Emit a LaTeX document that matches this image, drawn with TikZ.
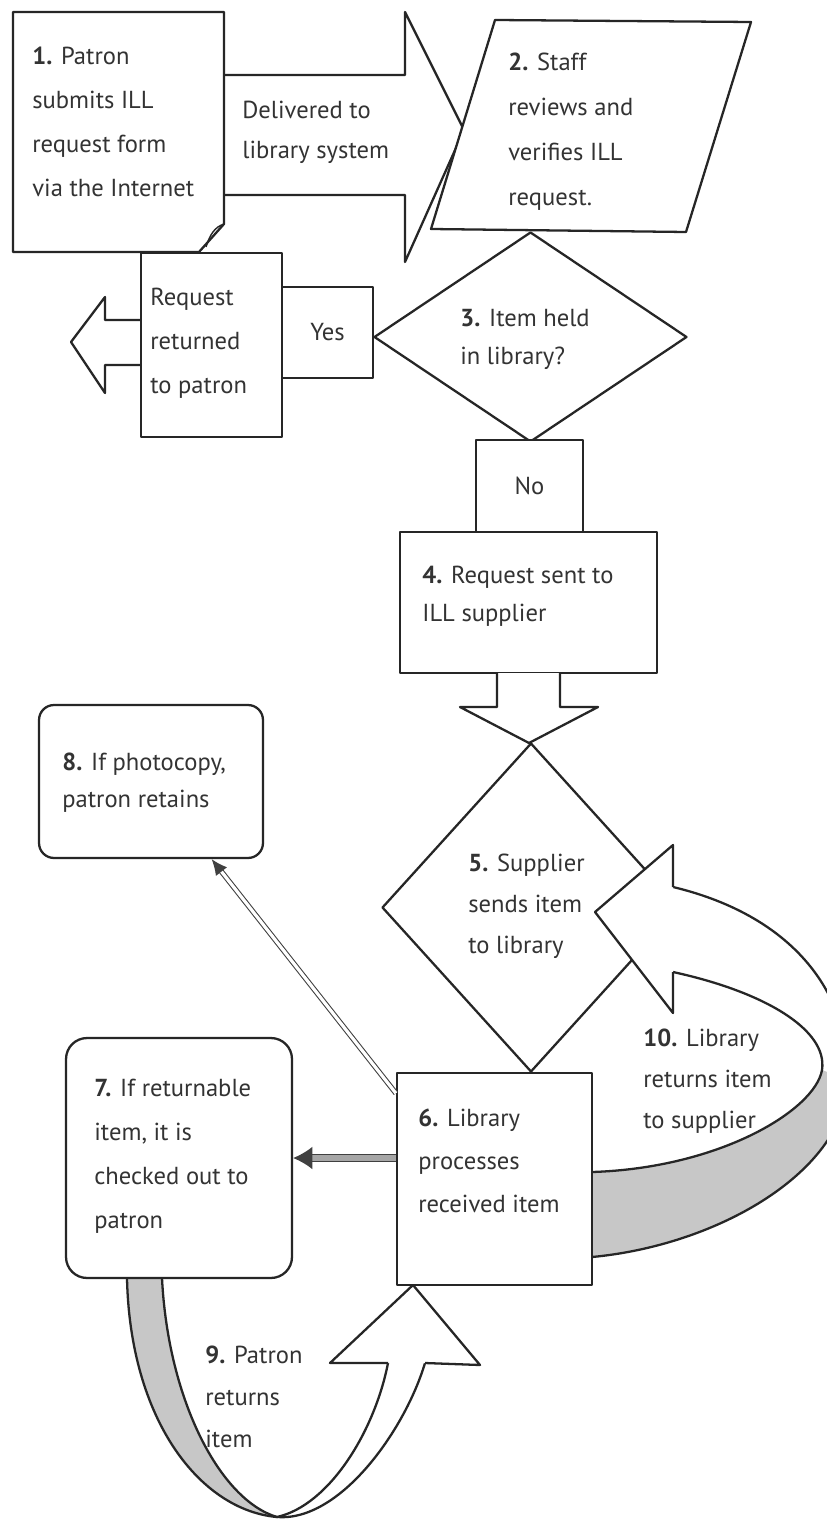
\documentclass[tikz,border=0pt]{standalone}
\usepackage{fontspec}
\setmainfont{PT Sans}
\usepackage{tikz}
\usetikzlibrary{shapes.geometric, arrows.meta}

\begin{document}
\begin{tikzpicture}[x=0.02cm, y=-0.02cm, line join=round,
  box/.style={rectangle, draw=black!85, line width=1.3pt, fill=white,
              inner sep=0pt, text=black!80, font=\fontsize{14pt}{17pt}\selectfont},
  rbox/.style={box, rounded corners=#1},
  dec/.style={diamond, draw=black!85, line width=1.3pt, fill=white, inner sep=0pt},
  outl/.style={draw=black!85, line width=1.3pt, fill=white},
  band/.style={draw=black!85, line width=1.3pt},
  shade/.style={fill=black!22},
  lbl/.style={anchor=west, align=left, inner sep=0pt, text=black!80,
              font=\fontsize{14pt}{#1pt}\selectfont},
  dbl/.style={draw=black!75, line width=0.6pt, double=white, double distance=1.8pt,
              -{Latex[length=9pt,width=8pt]}},
  dblthick/.style={draw=black!75, line width=0.9pt, double=black!35, double distance=3pt,
              -{Latex[length=11pt,width=13pt]}},
]
  \useasboundingbox (0,0) rectangle (826,1520);
  \fill[white] (0,0) rectangle (826,1520);

  % Step 1 and block arrow to step 2
  \filldraw[outl] (224,75) -- (405,75) -- (405,12) -- (464,130) -- (405,262) -- (405,195) -- (224,195);
  \filldraw[outl] (13,12) -- (224,12) -- (224,224) -- (199,252) -- (13,252) -- cycle;
  \draw[draw=black!85, line width=0.8pt] (224,224) .. controls (215,227) and (210,234) .. (206,247);
  \node[lbl=25] (t1) at (32,122) {\textbf{1.} Patron\\submits ILL\\request form\\via the Internet};
  \node[lbl=22.7] (tdel) at (242,132) {Delivered to\\library system};

  % Step 2
  \filldraw[outl] (495,20) -- (751,22) -- (686,232) -- (431,229) -- cycle;
  \node[lbl=25.6] (t2) at (508,132) {\textbf{2.} Staff\\reviews and\\verifies ILL\\request.};

  % Step 3 and the yes branch
  \node[dec, minimum width=6.26cm, minimum height=4.2cm] (d3) at (530.5,337) {};
  \node[lbl=21.6] (t3) at (460,339) {\textbf{3.} Item held\\in library?};
  \filldraw[outl] (141,320) -- (105,320) -- (105,297) -- (71,342) -- (105,393) -- (105,365) -- (141,365);
  \node[box, minimum width=2.82cm, minimum height=3.68cm] (ret) at (211.5,345) {};
  \node[lbl=25] (tret) at (150,343) {Request\\returned\\to patron};
  \node[box, minimum width=1.82cm, minimum height=1.82cm] (yes) at (327.5,332.5) {Yes};

  % No branch, step 4
  \node[box, minimum width=2.14cm, minimum height=1.84cm] (no) at (529.5,486) {No};
  \node[box, minimum width=5.14cm, minimum height=2.82cm] (b4) at (528.5,602.5) {};
  \node[lbl=21.6] (t4) at (422,596) {\textbf{4.} Request sent to\\ILL supplier};
  \filldraw[outl] (497,673) -- (497,707) -- (460,707) -- (529,743) -- (598,707) -- (560,707) -- (560,673);

  % Step 5
  \node[dec, minimum width=5.96cm, minimum height=6.58cm] (d5) at (531,907.5) {};
  \node[lbl=23.3] (t5) at (468,906) {\textbf{5.} Supplier\\sends item\\to library};

  % Step 10 loop back to supplier
  \fill[white] (673,887) .. controls (790,915) and (850,990) .. (848,1080) -- (822,1070)
    .. controls (828,1030) and (765,992) .. (673,972) -- cycle;
  \fill[shade] (822,1070) .. controls (815,1110) and (720,1168) .. (592,1172) -- (592,1257)
    .. controls (720,1245) and (846,1170) .. (848,1080) -- cycle;
  \draw[band] (673,887) .. controls (790,915) and (850,990) .. (848,1080)
    .. controls (846,1170) and (720,1245) .. (592,1257);
  \draw[band] (673,972) .. controls (765,992) and (828,1030) .. (822,1070)
    .. controls (815,1110) and (720,1168) .. (592,1172);
  \filldraw[outl] (673,887) -- (673,845) -- (595,912) -- (673,1013) -- (673,972);
  \node[lbl=23.3] (t10) at (643,1081) {\textbf{10.} Library\\returns item\\to supplier};

  % Step 9 loop back to library
  \fill[shade] (127,1278) .. controls (130,1420) and (200,1510) .. (277,1517)
    .. controls (220,1500) and (168,1400) .. (162,1278) -- cycle;
  \draw[band] (127,1278) .. controls (130,1420) and (200,1510) .. (277,1517)
    .. controls (340,1522) and (405,1430) .. (425,1363);
  \draw[band] (162,1278) .. controls (168,1400) and (220,1500) .. (277,1517)
    .. controls (330,1505) and (375,1430) .. (388,1363);
  \filldraw[outl] (388,1363) -- (330,1363) -- (413,1285) -- (480,1365) -- (425,1363);
  \node[lbl=23.8] (t9) at (205,1397) {\textbf{9.} Patron\\returns\\item};

  % Steps 6, 7, 8
  \node[box, minimum width=3.9cm, minimum height=4.24cm] (b6) at (494.5,1179) {};
  \node[lbl=24.4] (t6) at (418,1161) {\textbf{6.} Library\\processes\\received item};
  \node[rbox=0.42cm, minimum width=4.52cm, minimum height=4.8cm] (b7) at (179,1158) {};
  \node[lbl=25] (t7) at (94,1156) {\textbf{7.} If returnable\\item, it is\\checked out to\\patron};
  \node[rbox=0.3cm, minimum width=4.48cm, minimum height=3.06cm] (b8) at (151,781.5) {};
  \node[lbl=21] (t8) at (62,783) {\textbf{8.} If photocopy,\\patron retains};

  \draw[dbl] (b6.139) -- (b8.-52);
  \draw[dblthick] (b6.west |- b7.east) -- (b7.east);
\end{tikzpicture}
\end{document}
